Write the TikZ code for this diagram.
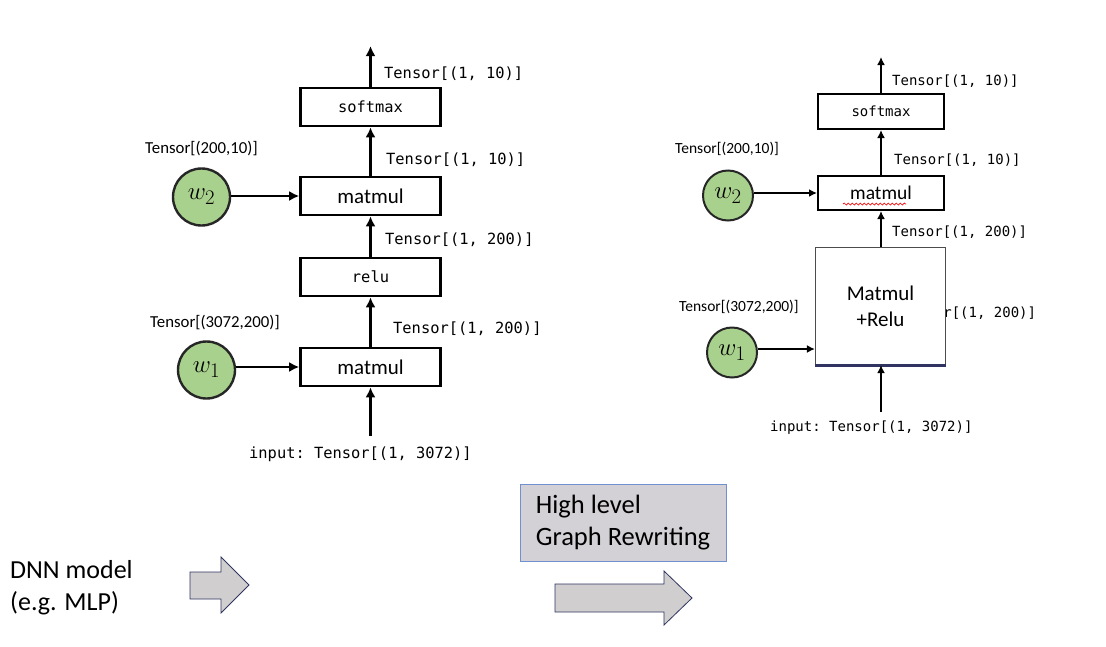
\documentclass[tikz,border=0pt]{standalone}
\usepackage{fontspec}
\setmainfont{Carlito}
\setmonofont{DejaVu Sans Mono}
\usetikzlibrary{arrows.meta,decorations.pathmorphing}

\definecolor{wgreen}{HTML}{A9D18E}
\definecolor{arrowgray}{HTML}{D0CECE}
\definecolor{arrownavy}{HTML}{2F3560}
\definecolor{boxgray}{HTML}{D3D1D6}
\definecolor{boxblue}{HTML}{7090D0}

\tikzset{
  opbox/.style={draw=black, line width=2.6pt, fill=white, minimum width=140pt, minimum height=38pt, inner sep=0pt},
  opboxr/.style={draw=black, line width=2pt, fill=white, minimum width=126pt, minimum height=35pt, inner sep=0pt},
  fusedbox/.style={draw=black!70, line width=1.2pt, fill=white, minimum width=130pt, minimum height=117pt, inner sep=0pt, align=center, font=\fontsize{21}{26}\selectfont},
  wcirc/.style={circle, draw=black!85, line width=2.4pt, fill=wgreen, minimum size=57pt, inner sep=0pt, font=\fontsize{30}{30}\selectfont},
  wcircr/.style={wcirc, line width=2pt, minimum size=50pt, font=\fontsize{28}{28}\selectfont},
  flowl/.style={line width=2.6pt, -{Latex[length=10pt,width=10pt]}},
  flowr/.style={line width=2pt, -{Latex[length=8pt,width=8pt]}},
  tl/.style={font=\fontsize{15.4}{16}\ttfamily, anchor=west, inner sep=0pt},
  tr/.style={font=\fontsize{14}{15}\ttfamily, anchor=west, inner sep=0pt},
  wl/.style={font=\fontsize{16.8}{18}\selectfont, anchor=west, inner sep=0pt},
  wr/.style={font=\fontsize{15.5}{17}\selectfont, anchor=west, inner sep=0pt},
  blkarrow/.style={fill=arrowgray, draw=arrownavy, line width=0.8pt, line join=miter},
  rewrite/.style={fill=boxgray, draw=boxblue, line width=1pt, minimum width=206pt, minimum height=77pt, align=left, inner sep=0pt, font=\fontsize{26.5}{32}\selectfont}
}

\begin{document}
\begin{tikzpicture}[x=1pt,y=-1pt]
  \fill[white] (0,0) rectangle (1106,646);
  \useasboundingbox (0,0) rectangle (1106,646);

  % 左のグラフ
  \node[opbox] (lsoft) at (370.5,107) {\fontsize{15.4}{16}\ttfamily softmax};
  \node[opbox] (lmm2) at (370.5,196) {\fontsize{21}{22}\selectfont matmul};
  \node[opbox] (lrelu) at (370.5,277) {\fontsize{15.4}{16}\ttfamily relu};
  \node[opbox] (lmm1) at (370.5,367) {\fontsize{21}{22}\selectfont matmul};
  \node[wcirc] (lw2) at (201.5,197) {$w_2$};
  \node[wcirc] (lw1) at (206.5,370) {$w_1$};
  \coordinate (lout) at (370.5,46);
  \coordinate (lin) at (370.5,436);

  \draw[flowl] (lin) -- (lmm1);
  \draw[flowl] (lmm1) -- (lrelu);
  \draw[flowl] (lrelu) -- (lmm2);
  \draw[flowl] (lmm2) -- (lsoft);
  \draw[flowl] (lsoft) -- (lout);
  \draw[flowl] (lw2.east |- lmm2) -- (lmm2.west);
  \draw[flowl] (lw1.east |- lmm1) -- (lmm1.west);

  \node[tl] (lt1) at (384,74) {Tensor[(1, 10)]};
  \node[tl] (lt2) at (386,160) {Tensor[(1, 10)]};
  \node[tl] (lt3) at (385,240) {Tensor[(1, 200)]};
  \node[tl] (lt4) at (393,329) {Tensor[(1, 200)]};
  \node[tl] (lt5) at (249,454) {input: Tensor[(1, 3072)]};
  \node[wl] (lw2t) at (145,149) {Tensor[(200,10)]};
  \node[wl] (lw1t) at (150,323) {Tensor[(3072,200)]};

  % 右のグラフ(融合後)
  \node[tr] (rt4) at (901,313.5) {Tensor[(1, 200)]};
  \node[opboxr] (rsoft) at (881,111.5) {\fontsize{14}{15}\ttfamily softmax};
  \node[opboxr, minimum height=34pt] (rmm) at (881,193) {\fontsize{19.5}{20}\selectfont matmul};
  \node[fusedbox] (rfuse) at (880.5,306) {Matmul\\+Relu};
  \draw[line width=3pt, draw=arrownavy] (rfuse.south west) -- (rfuse.south east);
  \node[wcircr] (rw2) at (728,195.5) {$w_2$};
  \node[wcircr] (rw1) at (732,352.5) {$w_1$};
  \coordinate (rout) at (881,57);
  \coordinate (rin) at (881,412);
  \draw[red, line width=0.7pt, decorate, decoration={snake, amplitude=1pt, segment length=4pt}] (843,204) -- (906,204);

  \draw[flowr] (rin) -- (rin |- rfuse.south);
  \draw[flowr] (rfuse.north -| rmm) -- (rmm);
  \draw[flowr] (rmm) -- (rsoft);
  \draw[flowr] (rsoft) -- (rout);
  \draw[flowr] (rw2.east |- 0,193) -- (rmm.west |- 0,193);
  \draw[flowr] (rw1.east |- 0,349) -- (rfuse.west |- 0,349);

  \node[tr] (rt1) at (892,81.5) {Tensor[(1, 10)]};
  \node[tr] (rt2) at (894,160) {Tensor[(1, 10)]};
  \node[tr] (rt3) at (892,232.5) {Tensor[(1, 200)]};
  \node[tr] (rt5) at (770,428) {input: Tensor[(1, 3072)]};
  \node[wr] (rw2t) at (675,149) {Tensor[(200,10)]};
  \node[wr] (rw1t) at (679,306.5) {Tensor[(3072,200)]};

  % 下の説明と矢印
  \node[anchor=west, align=left, inner sep=0pt, font=\fontsize{26}{32}\selectfont] (dnn) at (10,588) {DNN model\\(e.g. MLP)};
  \draw[blkarrow] (190,572) -- (221,572) -- (221,557) -- (249,585) -- (221,613) -- (221,599) -- (190,599) -- cycle;
  \node[rewrite] (hl) at (623,523) {High level\\Graph Rewriting};
  \draw[blkarrow] (555,584) -- (664,584) -- (664,571) -- (692,598) -- (664,625) -- (664,612) -- (555,612) -- cycle;
\end{tikzpicture}
\end{document}
